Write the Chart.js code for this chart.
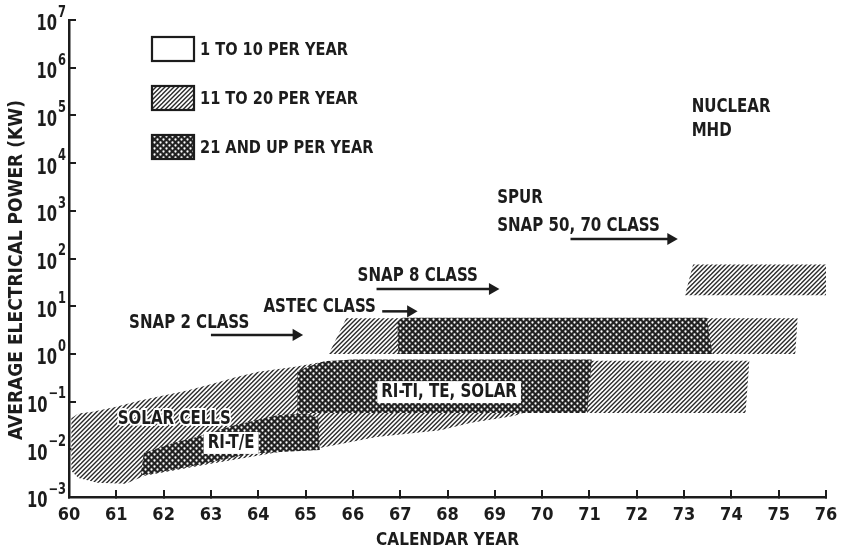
<!DOCTYPE html>
<html>
<head>
<meta charset="utf-8">
<script src="https://cdn.jsdelivr.net/npm/chart.js@4.4.1/dist/chart.umd.min.js"></script>
<style>
  html, body { margin: 0; padding: 0; background: #fff; }
  #wrap { width: 841px; height: 554px; }
</style>
</head>
<body>
<div id="wrap"><canvas id="c" width="841" height="554"></canvas></div>
<script>
// ---- axis ticks ----
const yearTicks = [60, 61, 62, 63, 64, 65, 66, 67, 68, 69, 70, 71, 72, 73, 74, 75, 76];
const powerExponents = [-3, -2, -1, 0, 1, 2, 3, 4, 5, 6, 7];

// ---- production-rate categories (legend) ----
const rateCategories = ['1 TO 10 PER YEAR', '11 TO 20 PER YEAR', '21 AND UP PER YEAR'];

// ---- regions: [calendar year, average electrical power kW] ----
const solarCellsBand = [
  [60.05, 0.045], [60.2, 0.056], [60.5, 0.061], [61.0, 0.078], [61.5, 0.105], [62.0, 0.135],
  [62.5, 0.17], [63.0, 0.23], [63.5, 0.32], [64.0, 0.42], [64.75, 0.53], [65.5, 0.72],
  [69.0, 0.50], [69.6, 0.058], [69.4, 0.050], [68.5, 0.036], [67.85, 0.025], [66.5, 0.018],
  [65.3, 0.0106], [64.5, 0.009], [63.0, 0.005], [61.6, 0.0028], [61.2, 0.0019], [60.6, 0.0020],
  [60.2, 0.0025], [60.05, 0.0035]
];
const riteBlock = [
  [61.52, 0.0030], [61.58, 0.0084], [62.2, 0.0136], [62.7, 0.018], [63.5, 0.032], [64.4, 0.052],
  [65.0, 0.056], [65.27, 0.046], [65.3, 0.0097], [64.05, 0.0084], [63.7, 0.0076], [62.64, 0.0045],
  [61.58, 0.0029]
];
const bigBlockDense = [
  [64.83, 0.058], [64.83, 0.42], [65.0, 0.52], [65.4, 0.70], [66.0, 0.76], [71.05, 0.76], [70.95, 0.058]
];
const bigBlockHatch = [[70.9, 0.058], [70.9, 0.72], [74.38, 0.72], [74.3, 0.058]];
const upperBandHatch = [[65.49, 1.0], [65.86, 5.6], [75.4, 5.6], [75.35, 1.0]];
const upperBandDense = [[66.96, 1.0], [66.94, 4.5], [67.05, 5.7], [73.48, 5.7], [73.6, 1.0]];
const nuclearBand = [[73.02, 17], [73.19, 75], [76.03, 75], [76.0, 17]];

// ---- system-class arrows: start year, end year, kW ----
const classArrows = [
  [63.0, 64.8, 2.5],
  [66.62, 67.22, 7.8],
  [66.5, 68.95, 23],
  [70.6, 72.72, 256]
];

// ---- text notes: text, year, kW, backing ----
const chartNotes = [
  ['SOLAR CELLS', 61.03, 0.043, 'halo'],
  ['RI-T/E', 62.93, 0.0136, 'box'],
  ['RI-TI, TE, SOLAR', 66.6, 0.158, 'box'],
  ['SNAP 2 CLASS', 61.27, 4.45, 'none'],
  ['ASTEC CLASS', 64.11, 9.6, 'none'],
  ['SNAP 8 CLASS', 66.1, 43, 'none'],
  ['SPUR', 69.05, 1850, 'none'],
  ['SNAP 50, 70 CLASS', 69.05, 480, 'none'],
  ['NUCLEAR', 73.16, 150000, 'none'],
  ['MHD', 73.16, 47000, 'none']
];

const FONT = '"Liberation Sans Narrow", "Arial Narrow", "DejaVu Sans Condensed", sans-serif';
const INK = '#1c1c1c';

const canvas = document.getElementById('c');
const ctx = canvas.getContext('2d');

function makeHatch() {
  const t = document.createElement('canvas');
  t.width = 9; t.height = 9;
  const g = t.getContext('2d');
  g.fillStyle = '#fff';
  g.fillRect(0, 0, 9, 9);
  g.strokeStyle = '#2a2a2a';
  g.lineWidth = 1.4;
  for (let c = -9; c <= 27; c += 4.5) {
    g.beginPath();
    g.moveTo(c + 1, -1);
    g.lineTo(c - 10, 10);
    g.stroke();
  }
  return ctx.createPattern(t, 'repeat');
}

function makeDense() {
  const t = document.createElement('canvas');
  t.width = 6; t.height = 6;
  const g = t.getContext('2d');
  g.fillStyle = '#222';
  g.fillRect(0, 0, 6, 6);
  g.fillStyle = '#fff';
  for (const [px, py] of [[1.5, 1.5], [4.5, 4.5]]) {
    g.beginPath();
    g.arc(px, py, 1.15, 0, Math.PI * 2);
    g.fill();
  }
  return ctx.createPattern(t, 'repeat');
}

const rateFills = ['#ffffff', makeHatch(), makeDense()];

const regions = [
  [solarCellsBand, 1], [bigBlockHatch, 1], [upperBandHatch, 1], [nuclearBand, 1],
  [riteBlock, 2], [bigBlockDense, 2], [upperBandDense, 2]
];

const datasets = [];
regions.forEach(([pts, rate]) => {
  datasets.push({
    label: rateCategories[rate],
    data: pts.concat([pts[0]]).map(([x, y]) => ({ x, y })),
    fill: 'shape',
    backgroundColor: rateFills[rate],
    borderColor: 'rgba(0,0,0,0)',
    borderWidth: 0,
    pointRadius: 0,
    tension: 0,
    order: rate === 1 ? 4 : 3
  });
});
classArrows.forEach(([from, to, kw]) => {
  datasets.push({
    label: 'arrow',
    data: [{ x: from, y: kw }, { x: to, y: kw }],
    fill: false,
    borderColor: INK,
    borderWidth: 2.5,
    pointRadius: [0, 7],
    pointStyle: 'triangle',
    rotation: 90,
    pointBackgroundColor: INK,
    pointBorderColor: INK,
    pointBorderWidth: 0,
    order: 1
  });
});

// draw text squeezed horizontally to a condensed look
function squeezedText(c, text, x, y, sx) {
  c.save();
  c.translate(x, y);
  c.scale(sx, 1);
  c.fillText(text, 0, 0);
  c.restore();
}

const decorations = {
  id: 'decorations',
  afterDatasetsDraw(chart) {
    const c = chart.ctx;
    const xs = chart.scales.x, ys = chart.scales.y;
    c.save();
    c.textBaseline = 'middle';
    c.textAlign = 'left';

    // notes
    const SX = 0.88;
    c.font = 'bold 19px ' + FONT;
    chartNotes.forEach(([text, year, kw, backing]) => {
      const x = xs.getPixelForValue(year);
      const y = ys.getPixelForValue(kw);
      const w = c.measureText(text).width * SX;
      if (backing === 'box') {
        c.fillStyle = '#fff';
        c.fillRect(x - 4, y - 11, w + 8, 22);
      } else if (backing === 'halo') {
        c.save();
        c.translate(x, y);
        c.scale(SX, 1);
        c.strokeStyle = '#fff';
        c.lineWidth = 4;
        c.lineJoin = 'round';
        c.strokeText(text, 0, 0);
        c.restore();
      }
      c.fillStyle = INK;
      squeezedText(c, text, x, y, SX);
    });

    // legend
    const lx = 152, lw = 42, lh = 24;
    const ly = [37, 86, 135];
    rateCategories.forEach((name, i) => {
      c.fillStyle = rateFills[i];
      c.fillRect(lx, ly[i], lw, lh);
      c.strokeStyle = INK;
      c.lineWidth = 2.2;
      c.strokeRect(lx, ly[i], lw, lh);
      c.fillStyle = INK;
      c.font = 'bold 18px ' + FONT;
      squeezedText(c, name, lx + lw + 6, ly[i] + lh / 2 + 1, 0.9);
    });

    // y tick labels: 10 with exponent
    ys.ticks.forEach(t => {
      const e = Math.round(Math.log10(t.value));
      if (!powerExponents.includes(e)) return;
      const y = ys.getPixelForValue(t.value) + 5;
      const ex = String(e).replace('-', '\u2212');
      c.font = 'bold 15px ' + FONT;
      const ew = c.measureText(ex).width * 0.85;
      c.fillStyle = INK;
      squeezedText(c, ex, 66 - ew, y - 12, 0.85);
      c.font = 'bold 21px ' + FONT;
      const bw = c.measureText('10').width * 0.78;
      squeezedText(c, '10', 66 - ew - 1 - bw, y, 0.78);
    });

    // y axis title
    c.translate(17, 270);
    c.rotate(-Math.PI / 2);
    c.textAlign = 'center';
    c.font = 'bold 19px ' + FONT;
    c.fillText('AVERAGE ELECTRICAL POWER (KW)', 0, 0);
    c.restore();
  }
};

new Chart(ctx, {
  type: 'line',
  data: { datasets },
  options: {
    responsive: false,
    animation: false,
    devicePixelRatio: 1,
    layout: { padding: { left: 0, right: 15, top: 20, bottom: 0 } },
    plugins: { legend: { display: false }, tooltip: { enabled: false } },
    scales: {
      x: {
        type: 'linear',
        min: 60, max: 76,
        afterBuildTicks: s => { s.ticks = yearTicks.map(v => ({ value: v })); },
        afterFit: s => { s.height = 57; s.paddingLeft = 0; s.paddingRight = 0; },
        border: { display: true, color: INK, width: 2.5 },
        grid: { drawOnChartArea: false, drawTicks: true, tickLength: -7, color: INK, lineWidth: 2 },
        ticks: {
          autoSkip: false, maxRotation: 0, padding: 15, color: INK,
          font: { family: FONT, size: 18, weight: 'bold' },
          callback: v => String(v)
        },
        title: {
          display: true, text: 'CALENDAR YEAR', color: INK,
          font: { family: FONT, size: 17, weight: 'bold' },
          padding: { top: 0, bottom: 3 }
        }
      },
      y: {
        type: 'logarithmic',
        min: 1e-3, max: 1e7,
        afterBuildTicks: s => { s.ticks = powerExponents.map(e => ({ value: Math.pow(10, e) })); },
        afterFit: s => { s.width = 69; s.paddingTop = 0; s.paddingBottom = 0; },
        border: { display: true, color: INK, width: 2.5 },
        grid: { drawOnChartArea: false, drawTicks: true, tickLength: -7, color: INK, lineWidth: 2 },
        ticks: { display: false }
      }
    }
  },
  plugins: [decorations]
});
</script>
</body>
</html>
